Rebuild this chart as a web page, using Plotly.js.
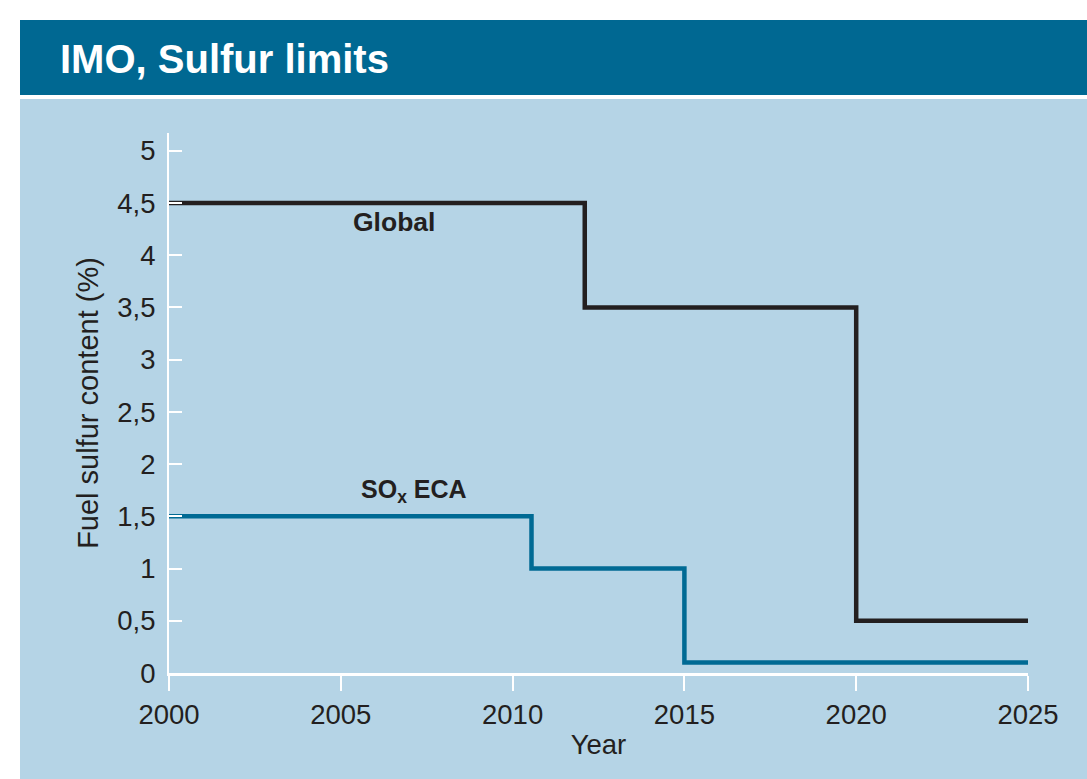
<!DOCTYPE html>
<html>
<head>
<meta charset="utf-8">
<script src="https://cdn.plot.ly/plotly-3.0.1.min.js"></script>
<style>html,body{margin:0;padding:0;background:#fff;}#chart{width:1087px;height:779px;}</style>
</head>
<body>
<div id="chart"></div>
<script>
// ---- data ----
const globalYears = [2000, 2012.1, 2020, 2025];
const globalLimit = [4.5, 3.5, 0.5, 0.5];
const ecaYears = [2000, 2010.55, 2015, 2025];
const ecaLimit = [1.5, 1.0, 0.1, 0.1];
const xTicks = [2000, 2005, 2010, 2015, 2020, 2025];
const yTicks = [0, 0.5, 1, 1.5, 2, 2.5, 3, 3.5, 4, 4.5, 5];
const titleText = "IMO, Sulfur limits";
const xTitle = "Year";
const yTitle = "Fuel sulfur content (%)";
const globalLabel = "Global";
const ecaLabel = "SO<sub>x</sub> ECA";

// ---- layout helpers ----
const W = 1087, H = 779;
const M = {l: 169, r: 59, t: 133, b: 106};
const pw = W - M.l - M.r, ph = H - M.t - M.b;
const px = v => (v - M.l) / pw;
const py = v => (H - M.b - v) / ph;

const dark = '#231f20';
const teal = '#006a94';
const bg = '#b5d4e6';
const font = 'Liberation Sans, Arial, Helvetica, sans-serif';

const traces = [
  {x: globalYears, y: globalLimit, mode: 'lines', line: {shape: 'hv', color: dark, width: 4.5}, hoverinfo: 'skip'},
  {x: ecaYears, y: ecaLimit, mode: 'lines', line: {shape: 'hv', color: teal, width: 4.5}, hoverinfo: 'skip'}
];

const layout = {
  width: W, height: H,
  margin: M,
  paper_bgcolor: '#ffffff',
  plot_bgcolor: 'rgba(0,0,0,0)',
  showlegend: false,
  separators: ', ',
  font: {family: font, color: dark, size: 27},
  title: {
    text: '<b>' + titleText + '</b>',
    font: {family: font, size: 40, color: '#ffffff'},
    x: 60 / W, xref: 'container', xanchor: 'left',
    y: 1 - 59 / H, yref: 'container', yanchor: 'middle'
  },
  xaxis: {
    range: [2000, 2025],
    tickvals: xTicks,
    ticks: 'outside', ticklen: 15, tickwidth: 2, tickcolor: '#ffffff',
    showline: true, linecolor: '#ffffff', linewidth: 2.5,
    showgrid: false, zeroline: false,
    tickfont: {size: 27.5, color: dark},
    title: {text: xTitle, font: {size: 27.5, color: dark}, standoff: 6}
  },
  yaxis: {
    range: [0, 5.17],
    tickvals: yTicks,
    ticks: 'inside', ticklen: 13, tickwidth: 2, tickcolor: '#ffffff',
    ticklabelstandoff: 6,
    showline: true, linecolor: '#ffffff', linewidth: 2,
    showgrid: false, zeroline: false,
    tickfont: {size: 27.5, color: dark},
    title: {text: yTitle, font: {size: 29, color: dark}, standoff: 10}
  },
  shapes: [
    {type: 'rect', xref: 'paper', yref: 'paper', layer: 'below',
     x0: px(20), x1: px(W + 5), y0: py(H + 5), y1: py(99),
     fillcolor: bg, line: {width: 0}},
    {type: 'rect', xref: 'paper', yref: 'paper', layer: 'below',
     x0: px(20), x1: px(W + 5), y0: py(95), y1: py(20),
     fillcolor: '#006892', line: {width: 0}}
  ],
  annotations: [
    {x: 2006.56, y: 4.32, xref: 'x', yref: 'y', text: '<b>' + globalLabel + '</b>',
     showarrow: false, font: {size: 26.5, color: dark}, xanchor: 'center', yanchor: 'middle'},
    {x: 2007.12, y: 1.74, xref: 'x', yref: 'y', text: '<b>' + ecaLabel + '</b>',
     showarrow: false, font: {size: 25, color: dark}, xanchor: 'center', yanchor: 'middle'}
  ]
};

Plotly.newPlot('chart', traces, layout, {displayModeBar: false, staticPlot: true});
</script>
</body>
</html>
